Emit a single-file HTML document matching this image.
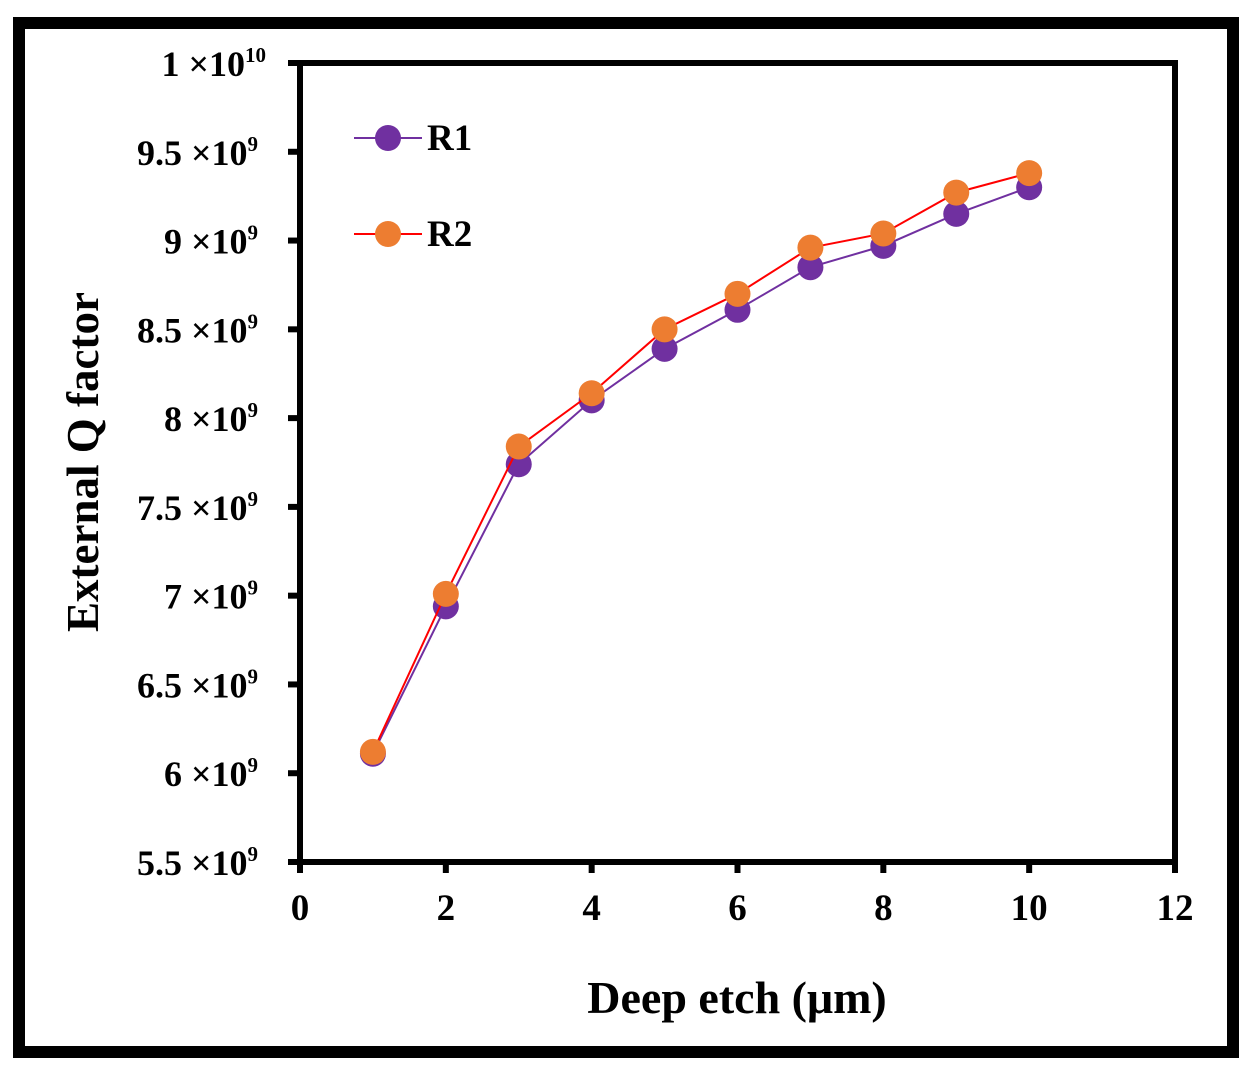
<!DOCTYPE html>
<html><head><meta charset="utf-8"><style>
html,body{margin:0;padding:0;background:#fff;}
svg{display:block;}
text{font-family:"Liberation Serif",serif;font-weight:bold;fill:#000;}
</style></head><body>
<svg id="chart" width="1250" height="1073">
<rect x="19" y="23" width="1214" height="1029" fill="none" stroke="#000" stroke-width="12"/>
<g id="axes"></g>
<g id="series"></g>
<g>
<line x1="354" y1="138" x2="422" y2="138" stroke="#7030a0" stroke-width="2"/>
<circle cx="388" cy="138" r="13" fill="#7030a0"/>
<text x="427" y="150" font-size="37">R1</text>
<line x1="354" y1="234" x2="422" y2="234" stroke="#ff0000" stroke-width="2"/>
<circle cx="388" cy="234" r="13" fill="#ed7d31"/>
<text x="427" y="246" font-size="37">R2</text>
</g>
<text x="737" y="1013" font-size="46" text-anchor="middle">Deep etch (μm)</text>
<text transform="translate(98,462) rotate(-90)" font-size="45" text-anchor="middle">External Q factor</text>
</svg>
<script>
const xCats=[1,2,3,4,5,6,7,8,9,10];
const r1Values=[6.11,6.94,7.74,8.10,8.39,8.61,8.85,8.97,9.15,9.30];
const r2Values=[6.12,7.01,7.84,8.14,8.50,8.70,8.96,9.04,9.27,9.38];
const xTicks=[0,2,4,6,8,10,12];
const yTickMant=["5.5","6","6.5","7","7.5","8","8.5","9","9.5","1"];
const yTickVals=[5.5,6,6.5,7,7.5,8,8.5,9,9.5,10];

const NS="http://www.w3.org/2000/svg";
const X0=300,X1=1175,Y0=862,Y1=63;
function xs(v){return X0+(v-0)/12*(X1-X0);}
function ys(v){return Y0-(v-5.5)/4.5*(Y0-Y1);}
function mk(tag,attrs,parent){const e=document.createElementNS(NS,tag);for(const k in attrs)e.setAttribute(k,attrs[k]);parent.appendChild(e);return e;}
const axes=document.getElementById('axes');
const pa=mk('rect',{x:X0,y:Y1,width:X1-X0,height:Y0-Y1,fill:'none',stroke:'#000','stroke-width':6},axes);


xTicks.forEach(t=>{
  const l=mk('line',{x1:xs(t),x2:xs(t),y1:Y0,y2:Y0+11,stroke:'#000','stroke-width':6},axes);
  
  
  const tx=mk('text',{x:xs(t),y:Y0+58,'font-size':37,'text-anchor':'middle'},axes);
  tx.textContent=String(t);
  
  
});
yTickVals.forEach((v,i)=>{
  const y=ys(v);
  const l=mk('line',{x1:X0-12,x2:X0,y1:y,y2:y,stroke:'#000','stroke-width':6},axes);
  
  
  const tx=mk('text',{x:258,y:y+13,'font-size':36,'text-anchor':'end'},axes);
  const isTop=v===10;
  tx.innerHTML=yTickMant[i]+' ×10<tspan font-size="21" dy="-14">'+(isTop?'10':'9')+'</tspan>';
  if(isTop) tx.setAttribute('x',266);
  
  
});
const ser=document.getElementById('series');
function drawSeries(vals,line,fill,name){
  const pts=xCats.map((c,i)=>xs(c)+','+ys(vals[i])).join(' ');
  const pl=mk('polyline',{points:pts,fill:'none',stroke:line,'stroke-width':2},ser);
  
  
  xCats.forEach((c,i)=>{
    const p=mk('circle',{cx:xs(c),cy:ys(vals[i]),r:13,fill:fill},ser);
    
    
  });
}
drawSeries(r1Values,'#7030a0','#7030a0','r1');
drawSeries(r2Values,'#ff0000','#ed7d31','r2');
</script>
</body></html>
